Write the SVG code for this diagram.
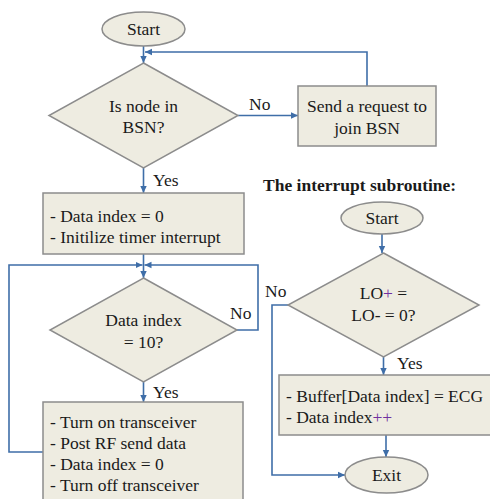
<svg xmlns="http://www.w3.org/2000/svg" width="490" height="499" viewBox="0 0 490 499">
<style>
.shape{fill:#EEECE1;stroke:#8C8C8C;stroke-width:1.5}
.shadow{fill:none;stroke:#B0B0B0;stroke-width:1.5}
.t{font-family:"Liberation Serif","Times New Roman",serif;font-size:17.5px;fill:#1a1a1a}
.c{text-anchor:middle}
.b{font-weight:bold}
.p{fill:#7030A0}
.conn{fill:none;stroke:#3F6EA8;stroke-width:1.6}
</style>
<defs>
<marker id="arr" markerUnits="userSpaceOnUse" markerWidth="8" markerHeight="8" refX="7" refY="4" orient="auto">
<path d="M0,0.8 L7,4 L0,7.2 z" fill="#3F6EA8"/>
</marker>
</defs>
<rect width="490" height="499" fill="#fff"/>

<g id="connectors">
<path class="conn" d="M143.5,46 V63" marker-end="url(#arr)"/>
<path class="conn" d="M367,86 V52 H145" marker-end="url(#arr)"/>
<path class="conn" d="M238,115.5 H298" marker-end="url(#arr)"/>
<path class="conn" d="M143.5,168 V193" marker-end="url(#arr)"/>
<path class="conn" d="M143.5,254 V278" marker-end="url(#arr)"/>
<path class="conn" d="M43,452 H9 V265 H142.5" marker-end="url(#arr)"/>
<path class="conn" d="M237,330 H258 V265 H144.5" marker-end="url(#arr)"/>
<path class="conn" d="M143.5,382 V402" marker-end="url(#arr)"/>
<path class="conn" d="M382,234 V253" marker-end="url(#arr)"/>
<path class="conn" d="M288,305 H272 V475 H345" marker-end="url(#arr)"/>
<path class="conn" d="M383.5,357 V375" marker-end="url(#arr)"/>
<path class="conn" d="M386,435 V457" marker-end="url(#arr)"/>
</g>

<g id="start1">
<ellipse class="shape" cx="143.5" cy="29" rx="41.5" ry="17"/>
<text class="t c" x="143.5" y="35">Start</text>
</g>

<g id="decision1">
<polygon class="shape" points="143.5,63 238,115.5 143.5,168 49,115.5"/>
<text class="t c" x="143.5" y="112">Is node in</text>
<text class="t c" x="143.5" y="133">BSN?</text>
</g>
<text class="t" x="249" y="110">No</text>
<text class="t" x="153" y="186">Yes</text>

<g id="send">
<rect class="shape" x="298" y="86" width="138" height="60"/>
<text class="t c" x="367" y="112">Send a request to</text>
<text class="t c" x="367" y="134">join BSN</text>
</g>

<g id="init">
<rect class="shape" x="43" y="193" width="201" height="61"/>
<text class="t" x="50" y="222">- Data index = 0</text>
<text class="t" x="50" y="243">- Initilize timer interrupt</text>
</g>

<g id="decision2">
<polygon class="shape" points="143.5,278 237,330 143.5,382 50,330"/>
<text class="t c" x="143.5" y="326">Data index</text>
<text class="t c" x="143.5" y="348">= 10?</text>
</g>
<text class="t" x="230" y="319">No</text>
<text class="t" x="153" y="398">Yes</text>

<g id="send-data">
<rect class="shape" x="43" y="402" width="200" height="100"/>
<text class="t" x="50" y="428">- Turn on transceiver</text>
<text class="t" x="50" y="449">- Post RF send data</text>
<text class="t" x="50" y="470">- Data index = 0</text>
<text class="t" x="50" y="491">- Turn off transceiver</text>
</g>

<text class="t b" x="263" y="191">The interrupt subroutine:</text>

<g id="start2">
<ellipse class="shape" cx="382" cy="218" rx="41" ry="16"/>
<text class="t c" x="382" y="224">Start</text>
</g>

<g id="decision3">
<polygon class="shape" points="383.5,253 479,305 383.5,357 288,305"/>
<text class="t c" x="383.5" y="299">LO<tspan class="p">+</tspan> =</text>
<text class="t c" x="383.5" y="321">LO- = 0?</text>
</g>
<text class="t" x="265" y="297">No</text>
<text class="t" x="397" y="369">Yes</text>

<g id="buffer">
<rect class="shape" x="279" y="375" width="215" height="60"/>
<text class="t" x="286" y="402">- Buffer[Data index] = ECG</text>
<text class="t" x="286" y="423">- Data index<tspan class="p">++</tspan></text>
</g>

<g id="exit">
<ellipse class="shape" cx="386.5" cy="475" rx="41.5" ry="18"/>
<text class="t c" x="386.5" y="481">Exit</text>
</g>
</svg>
